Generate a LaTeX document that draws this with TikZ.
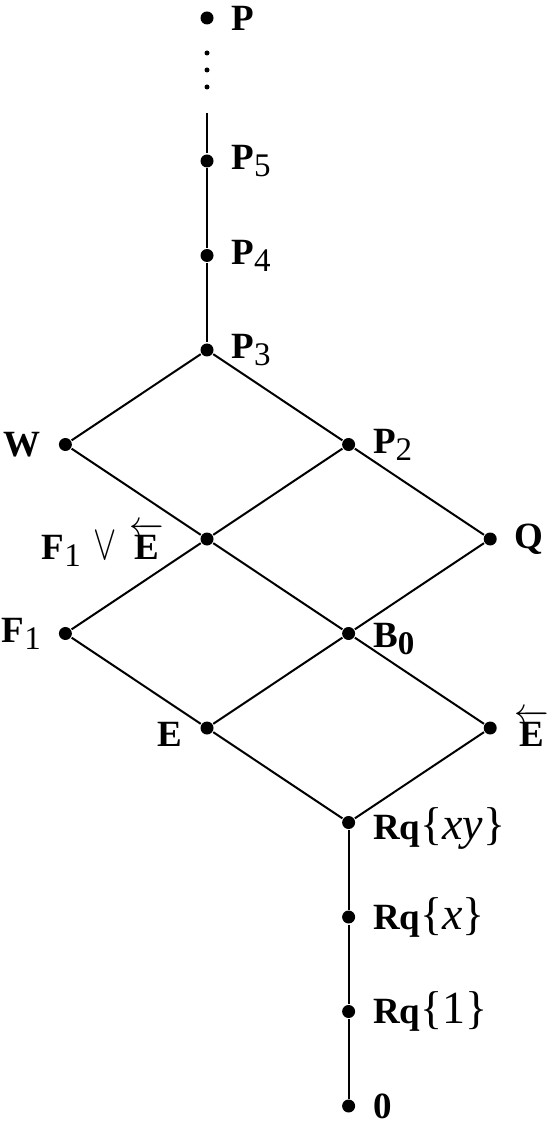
\documentclass[tikz,border=0pt]{standalone}
\usepackage{fontspec}
\setmainfont{Liberation Serif}
\usepackage{amsmath}
\usepackage{graphicx}
\tikzstyle{dot} = [circle,
inner sep=0pt,
minimum size=6.5pt,
fill=black]
\tikzstyle{lbl} = [font=\fontsize{18.5}{22}\selectfont,
inner sep=0pt,
label distance=8pt]
\tikzstyle{vdot} = [circle,
inner sep=0pt,
minimum size=2.5pt,
fill=black]
\newcommand{\mth}[1]{{\fontsize{23}{27}\selectfont #1}}
\newcommand{\lsub}[1]{\raisebox{-3.5pt}{\fontsize{16.5}{19}\selectfont #1}}

\begin{document}
\begin{tikzpicture}[node distance=47.25pt, line width=1pt]
\useasboundingbox (0,0) rectangle (276pt,-561pt);
\node (p3) [dot, label={[lbl]right:\textbf{P}\lsub{3}}] at (103.5pt,-175pt) {};
\node (p4) [dot, above of=p3, label={[lbl]right:\textbf{P}\lsub{4}}] {};
\node (p5) [dot, above of=p4, label={[lbl]right:\textbf{P}\lsub{5}}] {};
\node (p) [dot, above of=p5, yshift=24.25pt, label={[lbl]right:\textbf{P}}] {};
\node (w) [dot, below of=p3, xshift=-70.8pt, label={[lbl]left:\textbf{W}}] {};
\node (p2) [dot, below of=p3, xshift=70.8pt, label={[lbl]right:\textbf{P}\lsub{2}}] {};
\node (fe) [dot, below of=w, xshift=70.8pt, label={[lbl, label distance=17pt, yshift=-3pt]left:\textbf{F}\lsub{1}\hspace{0.35em}\mth{\scalebox{0.7}[1]{$\vee$}}\hspace{0.35em}$\overleftarrow{\textbf{E}}$}] {};
\node (q) [dot, below of=p2, xshift=70.8pt, label={[lbl]right:\textbf{Q}}] {};
\node (f1) [dot, below of=fe, xshift=-70.8pt, label={[lbl]left:\textbf{F}\lsub{1}}] {};
\node (b0) [dot, below of=fe, xshift=70.8pt, label={[lbl, yshift=-3pt]right:\textbf{B}\lsub{\textbf{0}}}] {};
\node (e) [dot, below of=b0, xshift=-70.8pt, label={[lbl, yshift=-3pt]left:\textbf{E}}] {};
\node (el) [dot, below of=b0, xshift=70.8pt, label={[lbl]right:$\overleftarrow{\textbf{E}}$}] {};
\node (rxy) [dot, below of=e, xshift=70.8pt, label={[lbl, yshift=-3pt]right:\textbf{Rq}\mth{\{\textit{xy}\}}}] {};
\node (rx) [dot, below of=rxy, label={[lbl]right:\textbf{Rq}\mth{\{\textit{x}\}}}] {};
\node (r1) [dot, below of=rx, label={[lbl]right:\textbf{Rq}\mth{\{1\}}}] {};
\node (zero) [dot, below of=r1, label={[lbl]right:\textbf{0}}] {};
\coordinate [above of=p5, yshift=-23.25pt] (vtop);

% dots between P and P5
\node (d1) [vdot, below of=p, yshift=29.75pt] {};
\node (d2) [vdot, below of=d1, yshift=38.75pt] {};
\node (d3) [vdot, below of=d2, yshift=38.75pt] {};

\draw (vtop) -- (p5) -- (p4) -- (p3);
\draw (p3) -- (w) -- (fe) -- (b0) -- (el) -- (rxy);
\draw (p3) -- (p2) -- (q) -- (b0);
\draw (p2) -- (fe) -- (f1) -- (e) -- (rxy);
\draw (b0) -- (e);
\draw (rxy) -- (rx) -- (r1) -- (zero);
\end{tikzpicture}
\end{document}
